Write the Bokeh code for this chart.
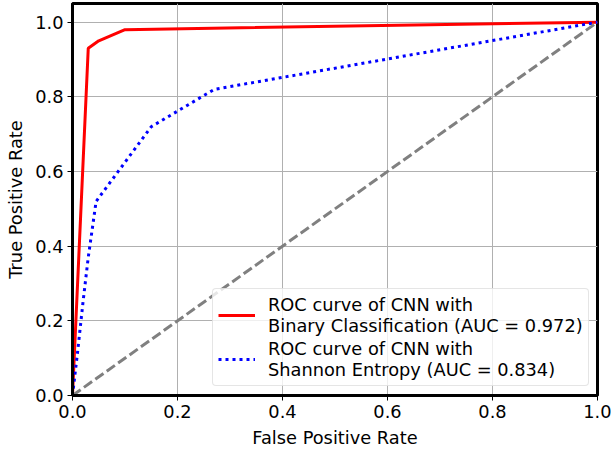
from bokeh.plotting import figure
from bokeh.models import Range1d, FixedTicker, Legend, LegendItem, NumeralTickFormatter
from bokeh.embed import file_html
from bokeh.resources import INLINE

# data
fpr_cnn = [0.0, 0.03, 0.05, 0.10, 1.0]
tpr_cnn = [0.0, 0.93, 0.95, 0.98, 1.0]
fpr_ent = [0.0, 0.01, 0.02, 0.03, 0.045, 0.15, 0.27, 1.0]
tpr_ent = [0.0, 0.12, 0.25, 0.37, 0.52, 0.72, 0.82, 1.0]
diag_x = [0.0, 1.0]
diag_y = [0.0, 1.0]
ticks = [0.0, 0.2, 0.4, 0.6, 0.8, 1.0]
label_cnn = "ROC curve of CNN with\nBinary Classification (AUC = 0.972)"
label_ent = "ROC curve of CNN with\nShannon Entropy (AUC = 0.834)"

FONT = "DejaVu Sans"
FS = "17.8px"

p = figure(width=611, height=450, output_backend="svg", toolbar_location=None,
           x_range=Range1d(0, 1), y_range=Range1d(0, 1.05))
p.min_border_left = 72
p.min_border_right = 14
p.min_border_top = 3
p.min_border_bottom = 55

r1 = p.line(fpr_cnn, tpr_cnn, line_color="red", line_width=3)
r2 = p.line(fpr_ent, tpr_ent, line_color="blue", line_width=3, line_dash="3 4")
p.line(diag_x, diag_y, line_color="gray", line_width=3, line_dash="10 4")

for ax in (p.xaxis[0], p.yaxis[0]):
    ax.ticker = FixedTicker(ticks=ticks)
    ax.formatter = NumeralTickFormatter(format="0.0")
    ax.major_label_text_font = FONT
    ax.major_label_text_font_size = FS
    ax.major_label_text_color = "black"
    ax.axis_label_text_font = FONT
    ax.axis_label_text_font_size = FS
    ax.axis_label_text_font_style = "normal"
    ax.axis_label_text_color = "black"
    ax.major_tick_out = 5
    ax.major_tick_in = 0
    ax.major_tick_line_width = 1
    ax.major_tick_line_color = "black"
    ax.minor_tick_line_color = None
    ax.axis_line_color = "black"
    ax.axis_line_width = 3
    ax.major_label_standoff = 4
    ax.axis_label_standoff = 6

p.xaxis.axis_label = "False Positive Rate"
p.yaxis.axis_label = "True Positive Rate"

p.grid.ticker = FixedTicker(ticks=ticks)
p.grid.grid_line_color = "#b0b0b0"
p.grid.grid_line_width = 1
p.outline_line_color = "black"
p.outline_line_width = 3
p.background_fill_color = "white"
p.border_fill_color = "white"

legend = Legend(items=[LegendItem(label=label_cnn, renderers=[r1]),
                       LegendItem(label=label_ent, renderers=[r2])],
                location=(140, 9))
legend.label_text_font = FONT
legend.label_text_font_size = FS
legend.label_text_color = "black"
legend.label_text_line_height = 1.15
legend.glyph_width = 37
legend.label_standoff = 13
legend.padding = 5
legend.spacing = 2
legend.margin = 0
legend.border_line_color = "#cccccc"
legend.border_line_width = 1
legend.border_radius = 4
legend.background_fill_alpha = 0.8
p.add_layout(legend, "center")

open("out.html", "w").write(file_html(p, INLINE))
